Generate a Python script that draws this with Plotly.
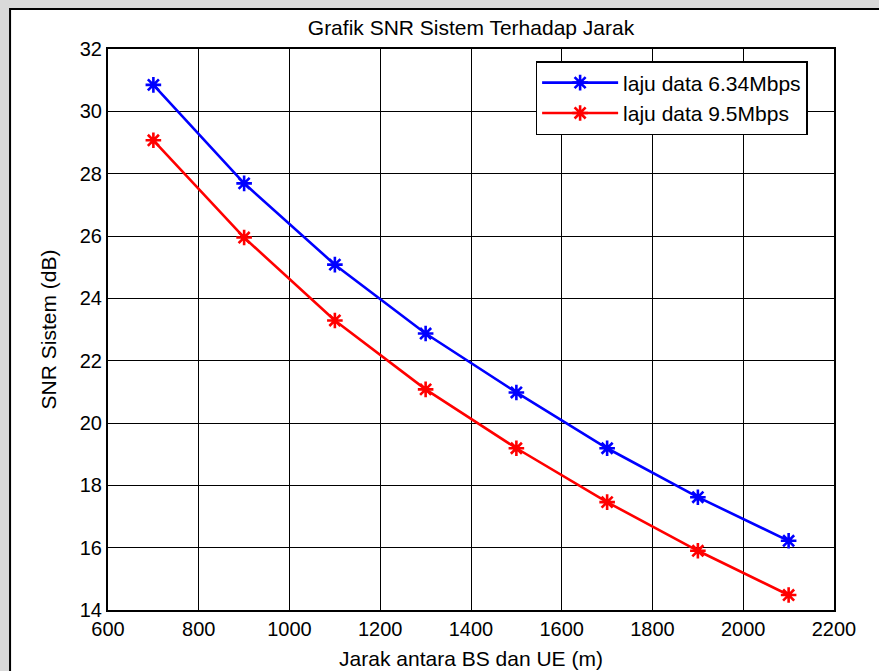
import plotly.graph_objects as go

jarak = [700, 900, 1100, 1300, 1500, 1700, 1900, 2100]
snr_634 = [30.85, 27.69, 25.08, 22.87, 20.98, 19.19, 17.62, 16.22]
snr_95 = [29.07, 25.95, 23.29, 21.08, 19.19, 17.46, 15.90, 14.48]
names = ["laju data 6.34Mbps", "laju data 9.5Mbps"]
colors = ["#0000ff", "#ff0000"]

FONT = "Liberation Sans, Arial, sans-serif"

fig = go.Figure()
for ys, nm, c in zip([snr_634, snr_95], names, colors):
    fig.add_trace(go.Scatter(
        x=jarak, y=ys, name=nm, mode="lines+markers",
        line=dict(color=c, width=2.6),
        marker=dict(symbol="asterisk-open", size=13, color=c,
                    line=dict(color=c, width=2.6)),
    ))

fig.update_layout(
    width=879, height=671,
    paper_bgcolor="#d9d9d9",
    plot_bgcolor="white",
    margin=dict(l=108, r=45, t=49, b=61),
    font=dict(family=FONT, size=20, color="black"),
    title=dict(text="Grafik SNR Sistem Terhadap Jarak", x=0.5, xref="paper",
               y=1 - 28 / 671, yref="container", yanchor="middle",
               font=dict(size=21, color="black")),
    showlegend=True,
    legend=dict(x=0.589, y=0.9786, xanchor="left", yanchor="top",
                bgcolor="white", bordercolor="black", borderwidth=1.5,
                font=dict(size=21), itemwidth=76, tracegroupgap=0),
    shapes=[dict(type="rect", xref="paper", yref="paper",
                 x0=-0.1349, x1=1.5, y0=-0.5, y1=1.0713,
                 fillcolor="white", line=dict(color="black", width=2),
                 layer="below")],
)

fig.update_xaxes(
    range=[600, 2200], dtick=200, tick0=600,
    showgrid=True, gridcolor="black", gridwidth=1.2,
    showline=True, linecolor="black", linewidth=2, mirror=True,
    ticks="", zeroline=False, automargin=False,
    tickfont=dict(size=20),
    title=dict(text="Jarak antara BS dan UE (m)", font=dict(size=21), standoff=12),
)
fig.update_yaxes(
    range=[14, 32], dtick=2, tick0=14,
    showgrid=True, gridcolor="black", gridwidth=1.2,
    showline=True, linecolor="black", linewidth=2, mirror=True,
    ticks="", zeroline=False, automargin=False,
    tickfont=dict(size=20),
    title=dict(text="SNR Sistem (dB)", font=dict(size=21), standoff=17),
)

fig.write_html("out.html", config={"displayModeBar": False},
               post_script="document.body.style.margin='0';")
